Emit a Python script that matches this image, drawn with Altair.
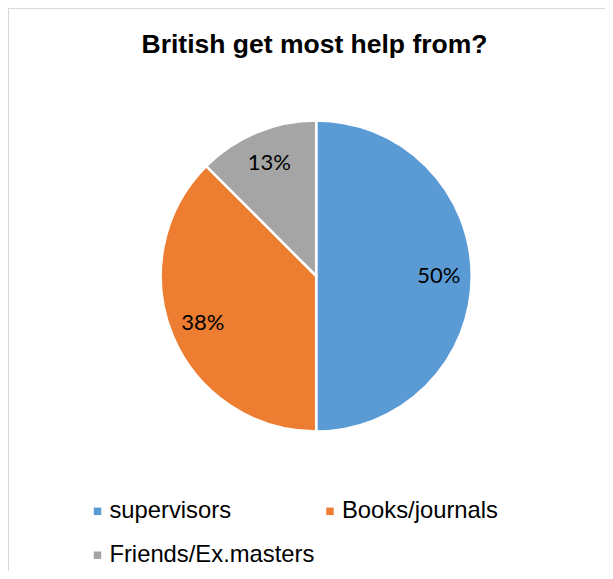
import altair as alt
import pandas as pd

title_text = "British get most help from?"
categories = ["supervisors", "Books/journals", "Friends/Ex.masters"]
shares = [50, 37.5, 12.5]
labels = ["50%", "38%", "13%"]
colors = ["#5B9BD5", "#ED7D31", "#A5A5A5"]

df = pd.DataFrame({
    "category": categories,
    "share": shares,
    "label": labels,
    "idx": list(range(len(categories))),
})

W, H = 597, 563
CX, CY = 308.2, 268.0

base = alt.Chart(df).encode(
    theta=alt.Theta("share:Q", stack=True),
    order=alt.Order("idx:Q"),
    x=alt.value(CX),
    y=alt.value(CY),
)

pie = base.mark_arc(outerRadius=155.5, stroke="white", strokeWidth=2.5).encode(
    color=alt.Color(
        "category:N",
        scale=alt.Scale(domain=categories, range=colors),
        legend=alt.Legend(
            orient="none", legendX=77.6, legendY=491.3, direction="horizontal",
            columns=2, title=None, symbolType="square", symbolSize=56,
            symbolStrokeWidth=0, labelFontSize=23.8, labelFont="Liberation Sans",
            labelColor="#000000", labelOffset=0, rowPadding=19, columnPadding=3.5,
            padding=0, labelLimit=400,
        ),
    )
)

text = base.mark_text(radius=122.7, font="Lato", fontSize=22, color="#000000").encode(
    text="label:N"
)

tdf = pd.DataFrame({"t": [title_text]})
title = alt.Chart(tdf).mark_text(
    font="Liberation Sans", fontSize=26.5, fontWeight="bold", color="#000000",
    baseline="alphabetic", align="center",
).encode(x=alt.value(306.5), y=alt.value(45.3), text="t:N")

border_top = alt.Chart(tdf).mark_rule(color="#D9D9D9", strokeWidth=2).encode(
    x=alt.value(0), x2=alt.value(W), y=alt.value(0)
)
border_left = alt.Chart(tdf).mark_rule(color="#D9D9D9", strokeWidth=2).encode(
    x=alt.value(0), y=alt.value(0), y2=alt.value(H)
)

chart = alt.layer(border_top, border_left, pie, text, title).properties(
    width=W, height=H,
    autosize=alt.AutoSizeParams(type="none"),
    padding=0,
    background="white",
).configure_view(stroke="transparent", strokeWidth=0)

chart.save("out.html", embed_options={"renderer": "svg", "actions": False})
